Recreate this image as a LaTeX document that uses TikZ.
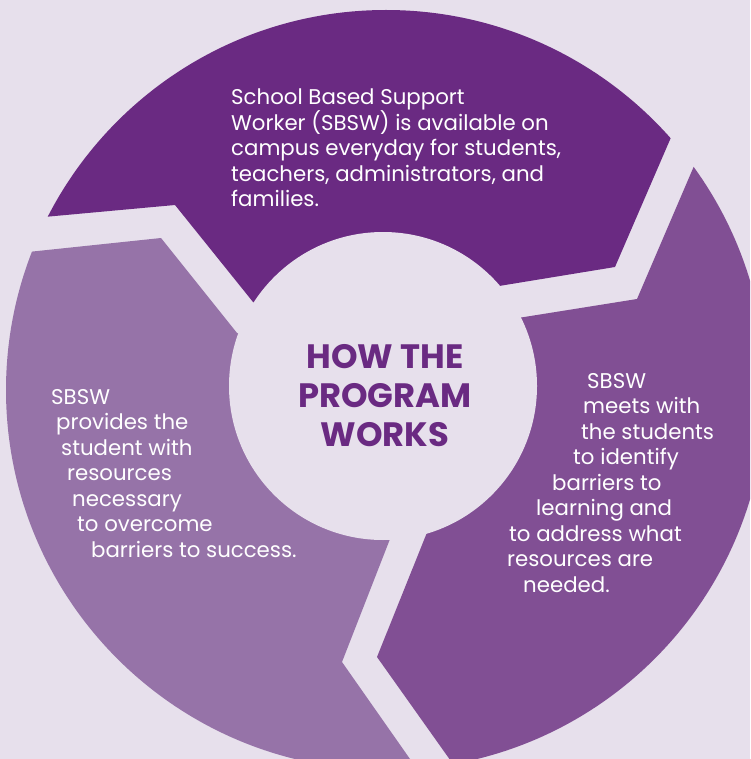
\documentclass[tikz,border=0pt]{standalone}
\usepackage{fontspec}
\setmainfont{Poppins}
\newfontfamily\titlefont{Poppins}
\usetikzlibrary{calc}
\definecolor{bgcol}{HTML}{E7E0EC}
\definecolor{topcol}{HTML}{6A2A82}
\definecolor{rightcol}{HTML}{814F94}
\definecolor{leftcol}{HTML}{9673A8}
\tikzset{
  bodytext/.style={text=white,inner sep=0pt,align=left,anchor=base west,
    font=\fontsize{21.3}{25.5}\selectfont},
  titletext/.style={text=topcol,inner sep=0pt,align=center,
    font=\titlefont\bfseries\fontsize{33.8}{39}\selectfont}
}

\begin{document}
\begin{tikzpicture}[x=1pt,y=-1pt]
\useasboundingbox (0,0) rectangle (750,759);
\clip (0,0) rectangle (750,759);
\fill[bgcol] (0,0) rectangle (750,759);

\coordinate (O) at (383,386);
\coordinate (C) at (386,390);
\coordinate (T1) at (253,302); \coordinate (T2) at (175,205); \coordinate (T3) at (44,217);
\coordinate (T4) at (669,142); \coordinate (T5) at (615,267); \coordinate (T6) at (499,286);
\coordinate (L1) at (237,333); \coordinate (L2) at (161,238); \coordinate (L3) at (28,252);
\coordinate (L4) at (390,539); \coordinate (L5) at (342,662); \coordinate (L6) at (410,759);
\coordinate (R1) at (518,318); \coordinate (R2) at (637,299); \coordinate (R3) at (691,173);
\coordinate (R4) at (428,530); \coordinate (R5) at (377,657); \coordinate (R6) at (448,757);

\begin{scope}
\clip (O) -- (T1) -- (T2) -- ($(T2)!2!(T3)$) -- (-100,-100) -- (850,-100)
  -- ($(T5)!2!(T4)$) -- (T4) -- (T5) -- (T6) -- cycle;
\fill[topcol] (C) circle[radius=380];
\end{scope}
\begin{scope}
\clip (O) -- (L1) -- (L2) -- ($(L2)!2!(L3)$) -- (-100,900)
  -- ($(L5)!2!(L6)$) -- (L5) -- (L4) -- cycle;
\fill[leftcol] (C) circle[radius=380];
\end{scope}
\begin{scope}
\clip (O) -- (R1) -- (R2) -- ($(R2)!2!(R3)$) -- (900,47) -- (900,900)
  -- ($(R5)!2!(R6)$) -- (R5) -- (R4) -- cycle;
\fill[rightcol] (C) circle[radius=380];
\end{scope}
\fill[bgcol] (O) circle[radius=154];

\node[titletext] (title) at (385,396) {HOW THE\\PROGRAM\\WORKS};
\node[bodytext] (available) at (231,207) {School Based Support\\Worker (SBSW) is available on\\campus everyday for students,\\teachers, administrators, and\\families.};
\node[bodytext] (provides) at (51,557) {SBSW\\\hspace*{5pt}provides the\\\hspace*{10pt}student with\\\hspace*{16pt}resources\\\hspace*{21pt}necessary\\\hspace*{26pt}to overcome\\\hspace*{40pt}barriers to success.};
\node[bodytext] (meets) at (507,592) {\hspace*{80pt}SBSW\\\hspace*{76pt}meets with\\\hspace*{74pt}the students\\\hspace*{66pt}to identify\\\hspace*{45pt}barriers to\\\hspace*{29pt}learning and\\\hspace*{2pt}to address what\\resources are\\\hspace*{16pt}needed.};
\end{tikzpicture}
\end{document}
